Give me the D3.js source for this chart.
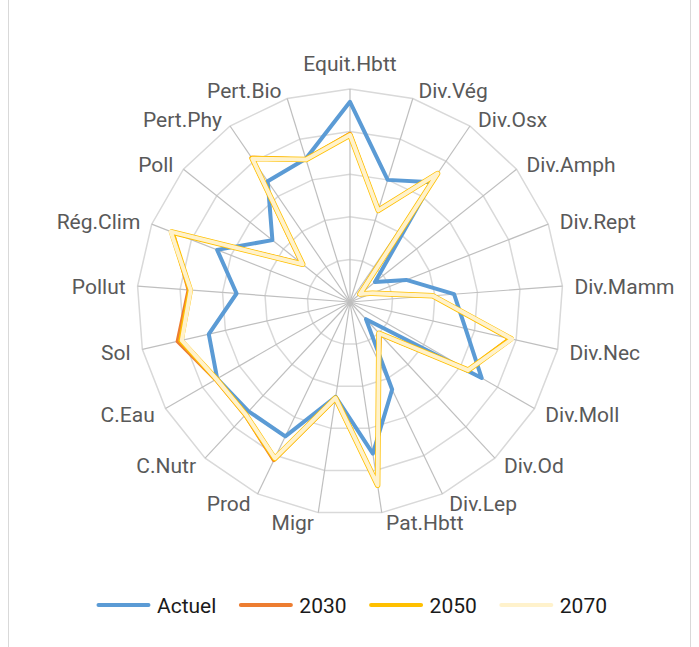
<!DOCTYPE html>
<html>
<head>
<meta charset="utf-8">
<script src="https://cdn.jsdelivr.net/npm/d3@7"></script>
<style>
  body { margin: 0; background: #fff; }
  svg { display: block; font-family: Roboto, "Liberation Sans", sans-serif; }
</style>
</head>
<body>
<svg class="radar_svg" width="699" height="647"></svg>
<script>
var categories = ["Equit.Hbtt", "Div.Vég", "Div.Osx", "Div.Amph", "Div.Rept", "Div.Mamm", "Div.Nec",
  "Div.Moll", "Div.Od", "Div.Lep", "Pat.Hbtt", "Migr", "Prod", "C.Nutr", "C.Eau", "Sol",
  "Pollut", "Rég.Clim", "Poll", "Pert.Phy", "Pert.Bio"];

var actuel = [4.7, 3.0, 3.4, 0.75, 1.42, 2.45, 2.78, 3.57, 0.55, 2.28, 3.6, 2.25, 3.5, 3.5, 3.6, 3.4, 2.67, 3.35, 2.33, 3.43, 3.52];
var v2030 = [3.95, 2.25, 3.65, 0.3, 0.57, 1.95, 3.85, 3.2, 1.03, 1.55, 4.33, 2.3, 4.12, 3.62, 3.64, 4.15, 3.8, 4.47, 1.45, 4.1, 3.5];
var v2050 = [3.92, 2.25, 3.65, 0.3, 0.57, 1.95, 3.88, 3.2, 1.0, 1.55, 4.35, 2.28, 4.08, 3.6, 3.62, 4.07, 3.76, 4.5, 1.42, 4.08, 3.5];
var v2070 = [3.92, 2.25, 3.65, 0.3, 0.57, 1.95, 3.9, 3.2, 1.0, 1.55, 4.35, 2.28, 4.07, 3.6, 3.62, 4.05, 3.75, 4.52, 1.42, 4.07, 3.5];

var seriesNames = ["Actuel", "2030", "2050", "2070"];
var seriesColors = ["#5B9BD5", "#ED7D31", "#FFC000", "#FFF2CC"];
var ringLevels = [1, 2, 3, 4, 5];

var svg = d3.select("svg.radar_svg");
var cx = 350, cy = 302, R = 213;

// chart area frame
svg.append("rect")
  .attr("x", 8.5).attr("y", -2)
  .attr("width", 682).attr("height", 660)
  .attr("fill", "none")
  .attr("stroke", "#D9D9D9")
  .attr("stroke-width", 1);

var g = svg.append("g").attr("transform", "translate(" + cx + "," + cy + ")");

var n = categories.length;
var angle = d3.scaleLinear().domain([0, n]).range([0, 2 * Math.PI]);
var radius = d3.scaleLinear().domain([0, 5]).range([0, R]);

var radial = d3.lineRadial()
  .angle(function(d, i) { return angle(i); })
  .radius(function(d) { return radius(d); })
  .curve(d3.curveLinearClosed);

// grid rings (polygons)
g.selectAll("path.ring")
  .data(ringLevels)
  .enter()
  .append("path")
  .attr("class", "ring")
  .attr("d", function(lv) { return radial(categories.map(function() { return lv; })); })
  .attr("fill", "none")
  .attr("stroke", "#D9D9D9")
  .attr("stroke-width", 1.5);

// spokes
g.selectAll("line.spoke")
  .data(categories)
  .enter()
  .append("line")
  .attr("class", "spoke")
  .attr("x1", 0).attr("y1", 0)
  .attr("x2", function(d, i) { return radius(5) * Math.sin(angle(i)); })
  .attr("y2", function(d, i) { return -radius(5) * Math.cos(angle(i)); })
  .attr("stroke", "#BFBFBF")
  .attr("stroke-width", 1.2);

// category labels
g.selectAll("text.cat")
  .data(categories)
  .enter()
  .append("text")
  .attr("class", "cat")
  .text(function(d) { return d; })
  .attr("font-size", 21)
  .attr("fill", "#595959")
  .attr("text-anchor", function(d, i) {
    var s = Math.sin(angle(i));
    if (Math.abs(s) < 0.05) return "middle";
    return s > 0 ? "start" : "end";
  })
  .attr("x", function(d, i) {
    var s = Math.sin(angle(i));
    var vx = radius(5) * s;
    if (Math.abs(s) < 0.05) return vx;
    var gap = 3 + 9 * Math.abs(s);
    return s > 0 ? vx + gap : vx - gap;
  })
  .attr("y", function(d, i) {
    var s = Math.sin(angle(i)), c = Math.cos(angle(i));
    var vy = -radius(5) * c;
    if (Math.abs(s) < 0.05) return c > 0 ? vy - 18 : vy + 24;
    return vy - 9 * c + 1 + 7.5;
  });

// series
var seriesData = [actuel, v2030, v2050, v2070];
var widths = [4, 4, 5.5, 4];
seriesData.forEach(function(vals, k) {
  g.append("path")
    .attr("d", radial(vals))
    .attr("fill", "none")
    .attr("stroke", seriesColors[k])
    .attr("stroke-width", widths[k])
    .attr("stroke-linejoin", "round");
});

// legend
var legend = svg.append("g");
var x = 0;
seriesNames.forEach(function(name, k) {
  var item = legend.append("g").attr("transform", "translate(" + x + ",0)");
  item.append("line")
    .attr("x1", 1.5).attr("x2", 51.5)
    .attr("y1", 0).attr("y2", 0)
    .attr("stroke", seriesColors[k])
    .attr("stroke-width", 4)
    .attr("stroke-linecap", "round");
  var t = item.append("text")
    .attr("x", 60).attr("y", 8)
    .attr("font-size", 21)
    .attr("fill", "#1a1a1a")
    .text(name);
  x += 60 + t.node().getComputedTextLength() + 23;
});
var total = x - 23;
legend.attr("transform", "translate(" + (352 - total / 2) + ",605)");
</script>
</body>
</html>
